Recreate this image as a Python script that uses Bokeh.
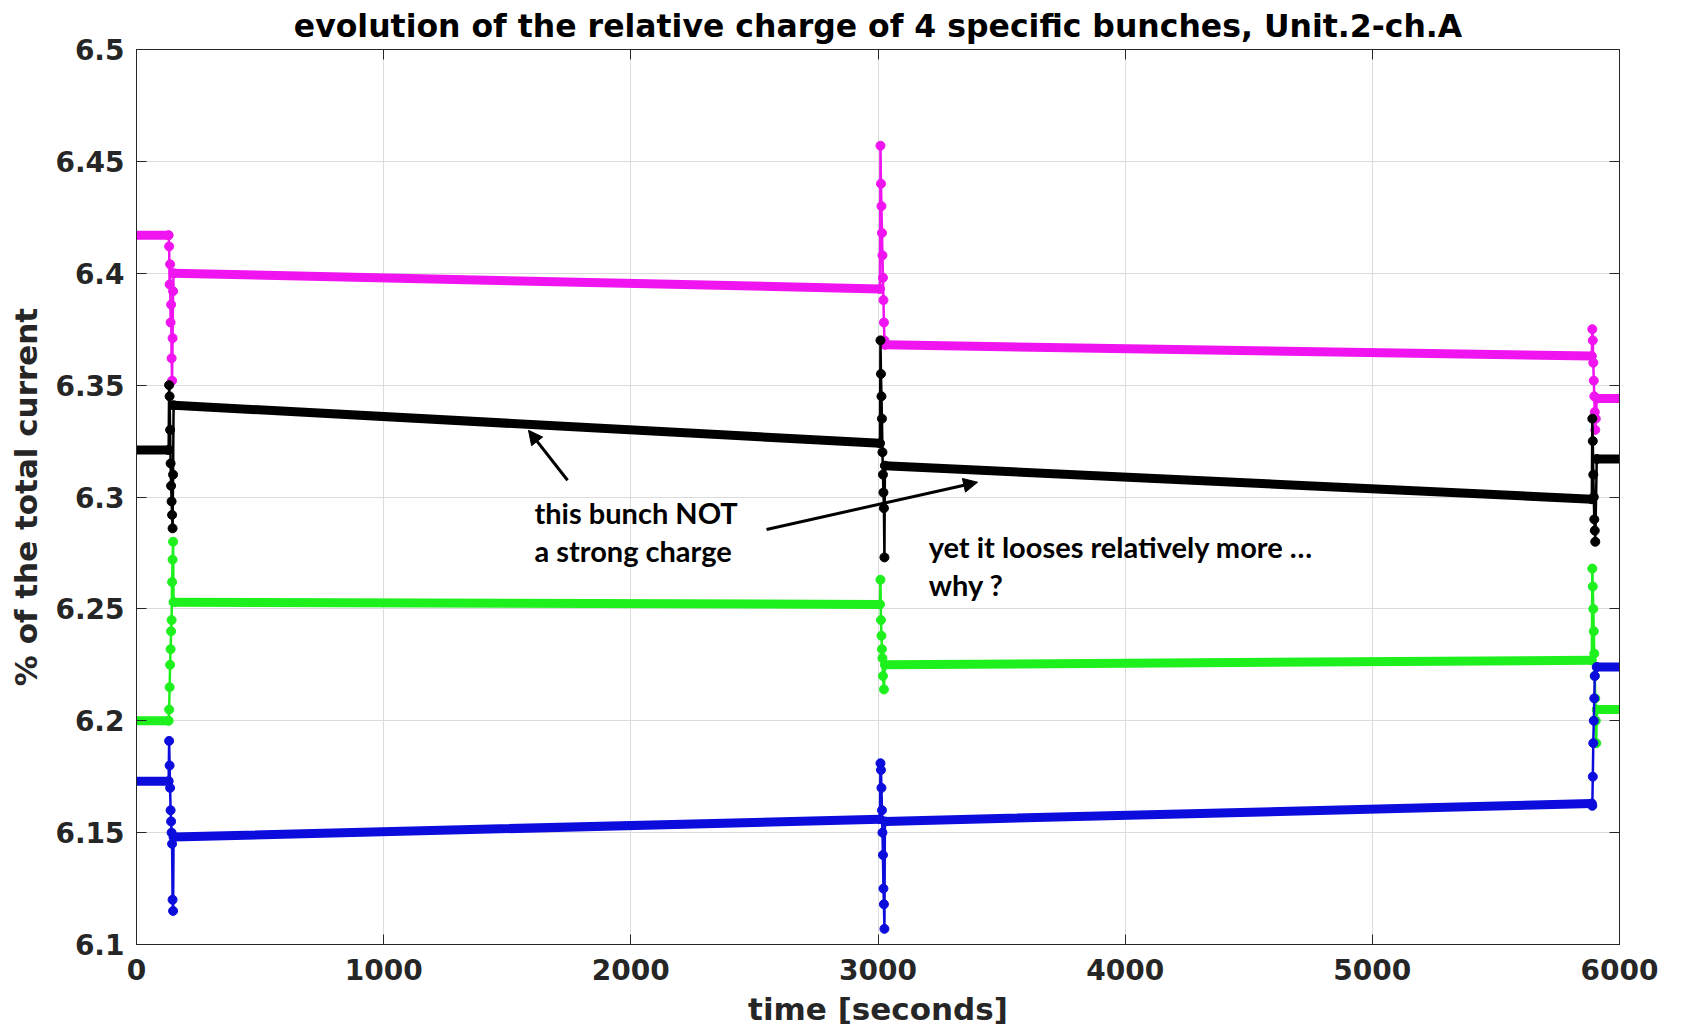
from bokeh.plotting import figure
from bokeh.models import Range1d, LinearAxis, FixedTicker, Arrow, NormalHead, Label
from bokeh.embed import file_html
from bokeh.resources import INLINE

# ---- data: relative charge (% of total current) of four bunches vs time [s] ----
# Each bunch: quasi-flat stretches (start/end time and value) plus the
# scattered samples recorded during the three refill transients.

# magenta bunch
mag_flat_t0 = [0, 150, 3028, 5908]
mag_flat_t1 = [130, 3008, 5888, 6000]
mag_flat_v0 = [6.417, 6.400, 6.368, 6.344]
mag_flat_v1 = [6.417, 6.393, 6.363, 6.344]
mag_burst_t = [130, 132, 134, 136, 138, 140, 142, 144, 146, 148, 150,
               3008, 3010, 3012, 3014, 3016, 3018, 3020, 3022, 3024, 3026, 3028,
               5888, 5890, 5892, 5894, 5896, 5898, 5900, 5902, 5904, 5908]
mag_burst_v = [6.417, 6.412, 6.395, 6.404, 6.378, 6.386, 6.362, 6.352, 6.371, 6.392, 6.400,
               6.393, 6.457, 6.440, 6.430, 6.418, 6.408, 6.398, 6.388, 6.378, 6.370, 6.368,
               6.363, 6.375, 6.370, 6.360, 6.352, 6.345, 6.338, 6.330, 6.335, 6.344]

# black bunch
blk_flat_t0 = [0, 150, 3028, 5908]
blk_flat_t1 = [130, 3008, 5888, 6000]
blk_flat_v0 = [6.321, 6.341, 6.314, 6.317]
blk_flat_v1 = [6.321, 6.324, 6.299, 6.317]
blk_burst_t = [130, 132, 134, 136, 138, 140, 142, 144, 146, 148, 150,
               3008, 3010, 3012, 3014, 3016, 3018, 3020, 3022, 3024, 3026, 3028,
               5888, 5890, 5892, 5894, 5896, 5898, 5900, 5902, 5908]
blk_burst_v = [6.321, 6.350, 6.345, 6.330, 6.315, 6.305, 6.298, 6.292, 6.286, 6.310, 6.341,
               6.324, 6.370, 6.355, 6.345, 6.335, 6.320, 6.310, 6.302, 6.295, 6.273, 6.314,
               6.299, 6.335, 6.325, 6.310, 6.300, 6.290, 6.285, 6.280, 6.317]

# green bunch
grn_flat_t0 = [0, 150, 3028, 5908]
grn_flat_t1 = [130, 3008, 5888, 6000]
grn_flat_v0 = [6.200, 6.253, 6.225, 6.205]
grn_flat_v1 = [6.200, 6.252, 6.227, 6.205]
grn_burst_t = [130, 132, 134, 136, 138, 140, 142, 144, 146, 148, 150,
               3008, 3010, 3012, 3014, 3016, 3018, 3020, 3024, 3028,
               5888, 5890, 5892, 5894, 5896, 5898, 5900, 5902, 5904, 5906, 5908]
grn_burst_v = [6.200, 6.205, 6.215, 6.225, 6.232, 6.240, 6.245, 6.262, 6.272, 6.280, 6.253,
               6.252, 6.263, 6.245, 6.238, 6.232, 6.228, 6.220, 6.214, 6.225,
               6.227, 6.268, 6.260, 6.250, 6.240, 6.230, 6.220, 6.210, 6.200, 6.190, 6.205]

# blue bunch
blu_flat_t0 = [0, 150, 3028, 5908]
blu_flat_t1 = [130, 3008, 5888, 6000]
blu_flat_v0 = [6.173, 6.148, 6.155, 6.224]
blu_flat_v1 = [6.173, 6.156, 6.163, 6.224]
blu_burst_t = [130, 132, 134, 136, 138, 140, 142, 144, 146, 148, 150,
               3008, 3010, 3012, 3014, 3016, 3018, 3020, 3022, 3024, 3026, 3028,
               5888, 5890, 5892, 5894, 5896, 5898, 5900, 5908]
blu_burst_v = [6.173, 6.191, 6.180, 6.170, 6.160, 6.155, 6.150, 6.145, 6.120, 6.115, 6.148,
               6.156, 6.181, 6.178, 6.170, 6.160, 6.150, 6.140, 6.125, 6.118, 6.107, 6.155,
               6.163, 6.162, 6.175, 6.190, 6.200, 6.210, 6.220, 6.224]

x_ticks = [0, 1000, 2000, 3000, 4000, 5000, 6000]
y_ticks = [6.1, 6.15, 6.2, 6.25, 6.3, 6.35, 6.4, 6.45, 6.5]
y_tick_labels = ["6.1", "6.15", "6.2", "6.25", "6.3", "6.35", "6.4", "6.45", "6.5"]

series = [
    ("#f014f0", mag_flat_t0, mag_flat_t1, mag_flat_v0, mag_flat_v1, mag_burst_t, mag_burst_v),
    ("#000000", blk_flat_t0, blk_flat_t1, blk_flat_v0, blk_flat_v1, blk_burst_t, blk_burst_v),
    ("#1ef01e", grn_flat_t0, grn_flat_t1, grn_flat_v0, grn_flat_v1, grn_burst_t, grn_burst_v),
    ("#0c0cdc", blu_flat_t0, blu_flat_t1, blu_flat_v0, blu_flat_v1, blu_burst_t, blu_burst_v),
]

AX_COLOR = "#262626"
FONT = "DejaVu Sans"

p = figure(frame_width=1483, frame_height=895,
           x_range=Range1d(0, 6000), y_range=Range1d(6.1, 6.5),
           output_backend="svg", toolbar_location=None,
           min_border_left=136, min_border_right=62,
           min_border_top=48, min_border_bottom=86)

p.title.text = "evolution of the relative charge of 4 specific bunches, Unit.2-ch.A"
p.title.align = "center"
p.title.text_font = FONT
p.title.text_font_style = "bold"
p.title.text_font_size = "31.5px"
p.title.text_color = "#000000"
p.title.offset = 0
p.title.standoff = 11

p.background_fill_color = "white"
p.border_fill_color = "white"
p.outline_line_color = AX_COLOR
p.outline_line_width = 1

for ax in p.xaxis:
    ax.ticker = FixedTicker(ticks=x_ticks)
for ax in p.yaxis:
    ax.ticker = FixedTicker(ticks=y_ticks)
    ax.major_label_overrides = {t: s for t, s in zip(y_ticks, y_tick_labels)}

p.xaxis.axis_label = "time [seconds]"
p.yaxis.axis_label = "% of the total current"

for ax in (p.xaxis[0], p.yaxis[0]):
    ax.axis_line_color = AX_COLOR
    ax.major_tick_line_color = AX_COLOR
    ax.major_tick_in = 10
    ax.major_tick_out = 0
    ax.minor_tick_line_color = None
    ax.major_label_text_font = FONT
    ax.major_label_text_font_style = "bold"
    ax.major_label_text_font_size = "28px"
    ax.major_label_text_color = AX_COLOR
    ax.axis_label_text_font = FONT
    ax.axis_label_text_font_style = "bold"
    ax.axis_label_text_font_size = "31px"
    ax.axis_label_text_color = AX_COLOR
p.xaxis.major_label_standoff = 14
p.yaxis.major_label_standoff = 12
p.xaxis.axis_label_standoff = 8
p.yaxis.axis_label_standoff = 8

# box ticks on the top and right edges (tick marks only, no labels)
top_ax = LinearAxis(ticker=FixedTicker(ticks=x_ticks))
right_ax = LinearAxis(ticker=FixedTicker(ticks=y_ticks))
for ax in (top_ax, right_ax):
    ax.axis_line_color = AX_COLOR
    ax.major_tick_line_color = AX_COLOR
    ax.major_tick_in = 10
    ax.major_tick_out = 0
    ax.minor_tick_line_color = None
    ax.major_label_text_font_size = "0px"
    ax.major_label_text_color = None
    ax.major_label_standoff = 0
p.add_layout(top_ax, "above")
p.add_layout(right_ax, "right")

p.xgrid.ticker = FixedTicker(ticks=x_ticks)
p.ygrid.ticker = FixedTicker(ticks=y_ticks)
p.xgrid.grid_line_color = "#dcdcdc"
p.ygrid.grid_line_color = "#dcdcdc"

for color, ft0, ft1, fv0, fv1, bt, bv in series:
    p.segment(x0=ft0, y0=fv0, x1=ft1, y1=fv1, line_color=color,
              line_width=9, line_cap="round")
    p.line(bt, bv, line_color=color, line_width=2.5)
    p.scatter(bt, bv, size=9, marker="circle", fill_color=color, line_color=color)

# annotations
ANN_FONT = "Lato"
for txt, tx, ty in [("this bunch NOT", 1610, 6.2931),
                    ("a strong charge", 1610, 6.2762),
                    ("yet it looses relatively more \u2026", 3205, 6.2781),
                    ("why ?", 3205, 6.2609)]:
    p.add_layout(Label(x=tx, y=ty, text=txt, text_font=ANN_FONT,
                       text_font_style="bold", text_font_size="29px",
                       text_color="#000000", text_baseline="middle",
                       text_align="left"))

p.add_layout(Arrow(end=NormalHead(size=14, fill_color="black", line_color="black"),
                   x_start=1744, y_start=6.3075, x_end=1586, y_end=6.3298,
                   line_width=3, line_color="black"))
p.add_layout(Arrow(end=NormalHead(size=14, fill_color="black", line_color="black"),
                   x_start=2549, y_start=6.2855, x_end=3403, y_end=6.3066,
                   line_width=3, line_color="black"))

open("out.html", "w").write(file_html(p, INLINE))
